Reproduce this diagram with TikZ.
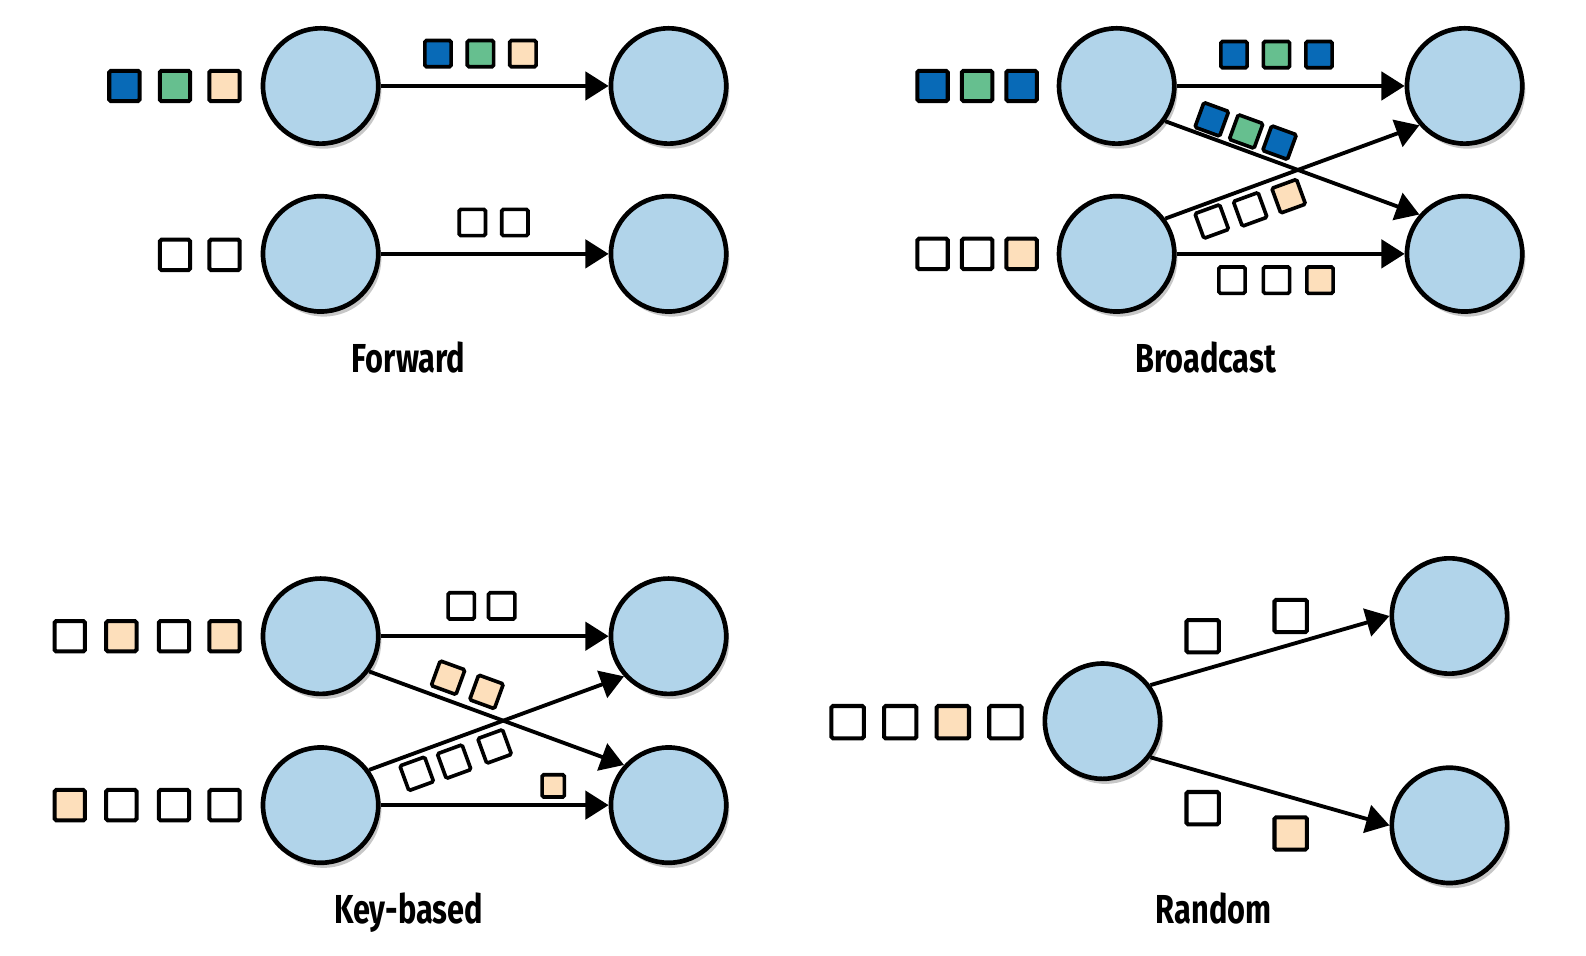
\documentclass[tikz,border=0pt]{standalone}
\usepackage{fontspec}
\setmainfont{Fira Sans}
\usetikzlibrary{arrows.meta,shadows}
\definecolor{opfill}{RGB}{177,212,234}
\definecolor{keyblue}{RGB}{8,106,183}
\definecolor{keygreen}{RGB}{102,191,143}
\definecolor{keypeach}{RGB}{253,223,187}
\tikzset{op/.style={circle,draw,line width=2.3pt,fill=opfill,minimum size=57pt,inner sep=0pt,
  drop shadow={shadow xshift=1.5pt,shadow yshift=-2.5pt,fill=black,opacity=.22}},
 pkt/.style={draw,line width=2pt,fill=#1,minimum size=15pt,inner sep=0pt,rounded corners=.8pt},
 pkt/.default=white,
 mini/.style={pkt=#1,line width=1.8pt,minimum size=13pt},
 mini/.default=white,
 flow/.style={-{Triangle[length=11.5pt,width=14pt]},line width=1.9pt},
 caption/.style={font=\bfseries\fontsize{20}{24}\selectfont,xscale=.76,transform shape,anchor=base}}

\begin{document}
\begin{tikzpicture}[x=0.5pt,y=-0.5pt]
\useasboundingbox (0,0) rectangle (1568,945);
% forward
\node[op] (fa1) at (317,85) {};
\node[op] (fb1) at (661,85) {};
\node[op] (fa2) at (317,251) {};
\node[op] (fb2) at (661,251) {};
\draw[flow] (fa1) -- (fb1);
\draw[flow] (fa2) -- (fb2);
\foreach \x/\c in {123/keyblue,173/keygreen,222/keypeach}
 \node[pkt=\c] (fin\x) at (\x,85) {};
\foreach \x/\c in {433/keyblue,475/keygreen,517/keypeach}
 \node[mini=\c] (fup\x) at (\x,53) {};
\foreach \x in {173,222}
 \node[pkt] (fin\x b) at (\x,252) {};
\foreach \x in {467,509}
 \node[mini] (flo\x) at (\x,220) {};
\node[caption] (fcap) at (404,368) {Forward};
% broadcast
\node[op] (ba1) at (1104,85) {};
\node[op] (bb1) at (1448,85) {};
\node[op] (ba2) at (1104,251) {};
\node[op] (bb2) at (1448,251) {};
\draw[flow] (ba1) -- (bb1);
\draw[flow] (ba2) -- (bb2);
\draw[flow] (ba1.-36) -- (bb2.139);
\draw[flow] (ba2.36) -- (bb1.221);
\foreach \x/\c in {922/keyblue,966/keygreen,1010/keyblue}
 \node[pkt=\c] (bin\x) at (\x,85) {};
\foreach \x/\c in {922/white,966/white,1010/keypeach}
 \node[pkt=\c] (bin\x b) at (\x,251) {};
\foreach \x/\c in {1220/keyblue,1262/keygreen,1304/keyblue}
 \node[mini=\c] (bup\x) at (\x,54) {};
\foreach \x/\c in {1218/white,1262/white,1305/keypeach}
 \node[mini=\c] (blo\x) at (\x,277) {};
\foreach \x/\y/\c in {1198/118/keyblue,1232/130/keygreen,1265/141/keyblue}
 \node[mini=\c,rotate=-20] (bdn\x) at (\x,\y) {};
\foreach \x/\y/\c in {1198/219/white,1236/207/white,1274/194/keypeach}
 \node[mini=\c,rotate=20] (bupx\x) at (\x,\y) {};
\node[caption] (bcap) at (1192,368) {Broadcast};
% key-based
\node[op] (ka1) at (317,629) {};
\node[op] (kb1) at (661,629) {};
\node[op] (ka2) at (317,796) {};
\node[op] (kb2) at (661,796) {};
\draw[flow] (ka1) -- (kb1);
\draw[flow] (ka2) -- (kb2);
\draw[flow] (ka1.-36) -- (kb2.138);
\draw[flow] (ka2.36) -- (kb1.222);
\foreach \x/\c in {69/white,120/keypeach,172/white,222/keypeach}
 \node[pkt=\c] (kin\x) at (\x,629) {};
\foreach \x/\c in {69/keypeach,120/white,172/white,222/white}
 \node[pkt=\c] (kin\x b) at (\x,796) {};
\foreach \x in {456,496}
 \node[mini] (kup\x) at (\x,599) {};
\foreach \x/\y in {443/670,481/684}
 \node[mini=keypeach,rotate=-20] (kdn\x) at (\x,\y) {};
\foreach \x/\y in {412/765,449/753,489/738}
 \node[mini,rotate=20] (kupx\x) at (\x,\y) {};
\node[pkt=keypeach,line width=1.8pt,minimum size=11pt] (klo) at (547,777) {};
\node[caption] (kcap) at (404,913) {Key-based};
% random
\node[op] (rg) at (1090,713) {};
\node[op] (rh1) at (1433,609) {};
\node[op] (rh2) at (1433,816) {};
\draw[flow] (rg.37) -- (rh1.west);
\draw[flow] (rg.-37) -- (rh2.west);
\foreach \x/\c in {838/white,890/white,942/keypeach,994/white}
 \node[pkt=\c,minimum size=16pt] (rin\x) at (\x,714) {};
\node[pkt,minimum size=16pt] (rup1) at (1189,629) {};
\node[pkt,minimum size=16pt] (rup2) at (1276,609) {};
\node[pkt,minimum size=16pt] (rlo1) at (1189,799) {};
\node[pkt=keypeach,minimum size=16pt] (rlo2) at (1276,824) {};
\node[caption] (rcap) at (1200,913) {Random};
\end{tikzpicture}
\end{document}
